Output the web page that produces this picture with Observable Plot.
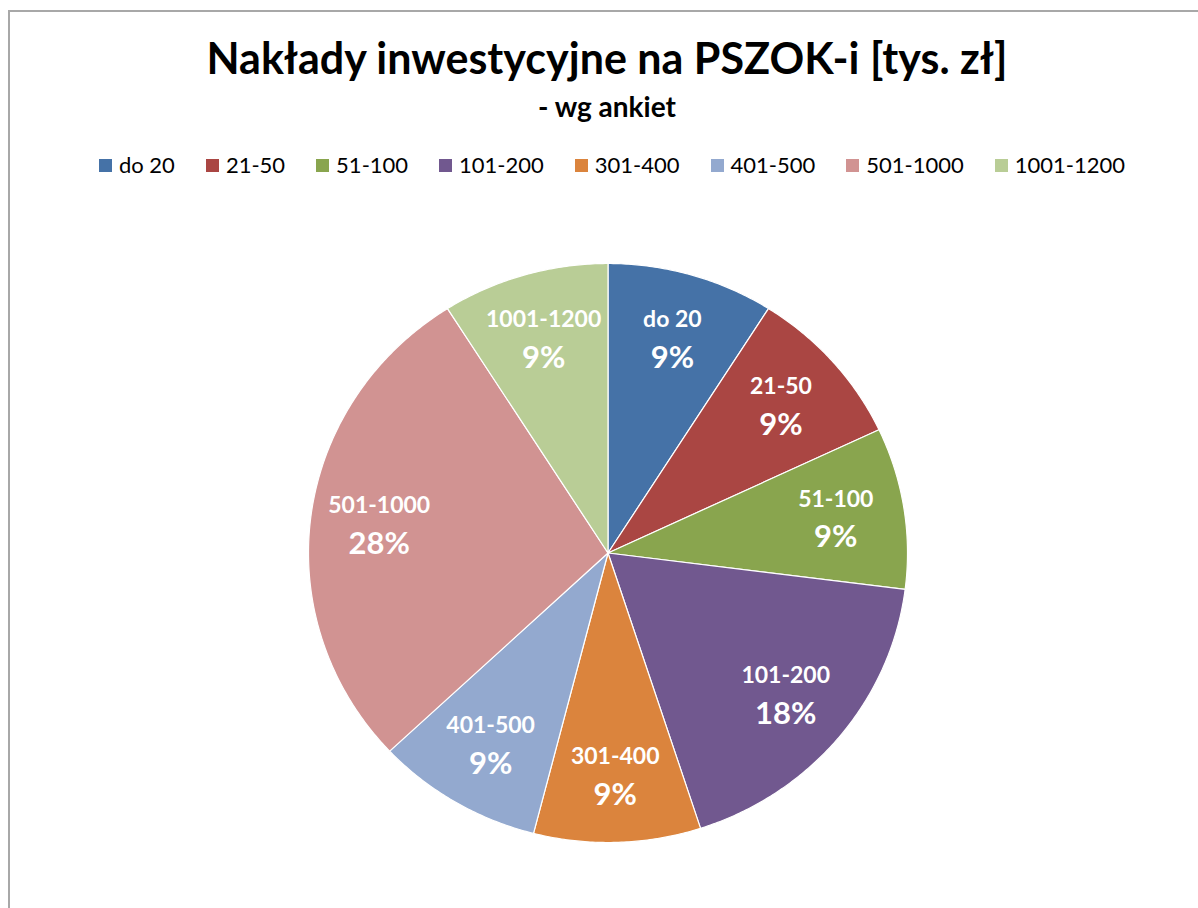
<!DOCTYPE html>
<html><head><meta charset="utf-8">
<script src="https://cdn.jsdelivr.net/npm/d3@7"></script>
<script src="https://cdn.jsdelivr.net/npm/@observablehq/plot@0.6"></script>
<style>
body{margin:0;background:#fff;font-family:Lato,"Open Sans",sans-serif;width:1198px;height:908px;overflow:hidden;position:relative;}
#frame{position:absolute;left:8px;top:10px;width:1200px;height:910px;border-top:2px solid #a8a8a8;border-left:2px solid #a8a8a8;}
#title{position:absolute;left:0;width:1214px;top:36px;text-align:center;font-weight:700;font-size:43px;line-height:43px;color:#000;white-space:nowrap;}
#subtitle{position:absolute;left:0;width:1214px;top:92px;text-align:center;font-weight:700;font-size:28px;line-height:28px;color:#000;}
#legend{position:absolute;left:0;width:1224px;top:154px;display:flex;justify-content:center;gap:31px;font-size:22px;line-height:22px;color:#000;}
#legend .item{display:flex;align-items:center;gap:7px;}
#legend .sw{width:13px;height:13px;display:inline-block;}
#chart{position:absolute;left:0;top:238px;}
</style></head>
<body>
<div id="frame"></div>
<div id="title">Nakłady inwestycyjne na PSZOK-i [tys. zł]</div>
<div id="subtitle">- wg ankiet</div>
<div id="legend"></div>
<div id="chart"></div>
<script>
const categories = ["do 20","21-50","51-100","101-200","301-400","401-500","501-1000","1001-1200"];
const percents = [9,9,9,18,9,9,28,9];
const colors = ["#4572A7","#AA4643","#89A54E","#71588F","#DB843D","#93A9CF","#D19392","#B9CD96"];

// layout constants
const W = 1198, H = 630, RX = 299.5, RY = 289.5, CX = 607.5, CY = 314.5;

// build slice outlines (unit radius) from the percentages
const total = d3.sum(percents);
const slicePts = [];
const labels = [];
let cum = 0;
categories.forEach((cat, i) => {
  const a0 = 2 * Math.PI * cum / total;
  cum += percents[i];
  const a1 = 2 * Math.PI * cum / total;
  const n = Math.max(2, Math.ceil((a1 - a0) / (Math.PI / 360)));
  slicePts.push({cat, x: 0, y: 0});
  for (let k = 0; k <= n; k++) {
    const a = a0 + (a1 - a0) * k / n;
    slicePts.push({cat, x: Math.sin(a), y: Math.cos(a)});
  }
  slicePts.push({cat, x: 0, y: 0});
  const m = (a0 + a1) / 2;
  labels.push({cat, pct: percents[i] + "%", x: 0.77 * Math.sin(m), y: 0.77 * Math.cos(m)});
});

const chart = Plot.plot({
  width: W, height: H,
  margin: 0,
  x: {domain: [-CX / RX, (W - CX) / RX], axis: null},
  y: {domain: [-(H - CY) / RY, CY / RY], axis: null},
  color: {domain: categories, range: colors},
  style: {background: "transparent", fontFamily: "Lato, 'Open Sans', sans-serif"},
  marks: [
    Plot.line(slicePts, {x: "x", y: "y", z: "cat", fill: "cat", stroke: "white", strokeWidth: 1.2, curve: "linear"}),
    Plot.text(labels, {x: "x", y: "y", text: "cat", dy: -19, fill: "white", fontSize: 23, fontWeight: "bold"}),
    Plot.text(labels, {x: "x", y: "y", text: "pct", dy: 19, fill: "white", fontSize: 31, fontWeight: "bold"})
  ]
});
document.getElementById("chart").appendChild(chart);

const leg = document.getElementById("legend");
categories.forEach((c, i) => {
  const it = document.createElement("div");
  it.className = "item";
  const sw = document.createElement("span");
  sw.className = "sw";
  sw.style.background = colors[i];
  const t = document.createElement("span");
  t.textContent = c;
  it.appendChild(sw); it.appendChild(t);
  leg.appendChild(it);
});
</script>
</body></html>
